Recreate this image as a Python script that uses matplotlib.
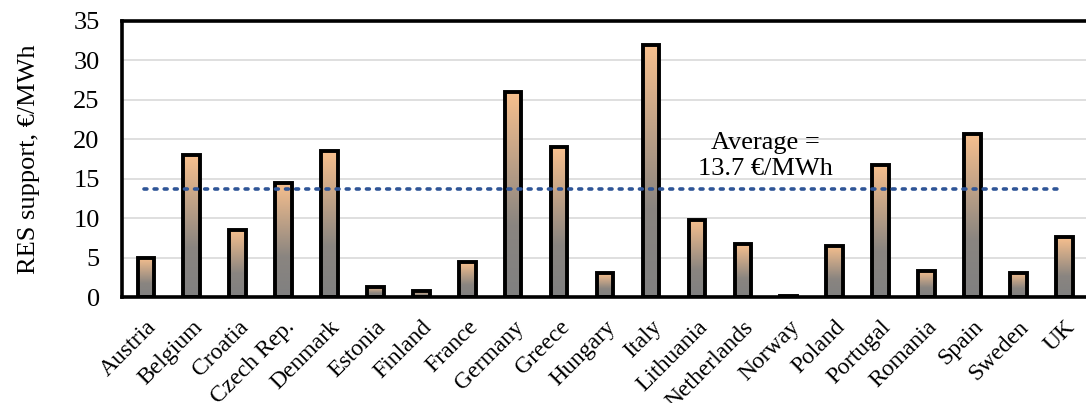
import numpy as np
import matplotlib.pyplot as plt
from matplotlib.colors import LinearSegmentedColormap

countries = ["Austria", "Belgium", "Croatia", "Czech Rep.", "Denmark", "Estonia",
             "Finland", "France", "Germany", "Greece", "Hungary", "Italy",
             "Lithuania", "Netherlands", "Norway", "Poland", "Portugal",
             "Romania", "Spain", "Sweden", "UK"]
support = [5.0, 18.0, 8.5, 14.5, 18.5, 1.3, 0.7, 4.4, 26.0, 19.0, 3.0, 32.0,
           9.8, 6.7, 0.1, 6.5, 16.8, 3.3, 20.7, 3.1, 7.6]
average = 13.7

plt.rcParams['font.family'] = ['Liberation Serif', 'DejaVu Serif']

fig = plt.figure(figsize=(10.86, 4.03), dpi=100)
ax = fig.add_axes([0.1123, 0.263, 0.8897, 0.685])

x = np.arange(len(countries))
bars = ax.bar(x, support, width=0.36, facecolor='none', edgecolor='black',
              linewidth=2.8, zorder=3)

# orange-to-grey fill inside every bar
cmap = LinearSegmentedColormap.from_list(
    "rg", [(0.0, "#808080"), (0.35, "#8a8580"), (1.0, "#f8c08e")])
grad = np.linspace(0, 1, 256).reshape(-1, 1)
for b in bars:
    x0, y0 = b.get_x(), b.get_y()
    w, h = b.get_width(), b.get_height()
    if h <= 0:
        continue
    im = ax.imshow(grad, cmap=cmap, origin='lower', aspect='auto',
                   extent=[x0, x0 + w, y0, y0 + h], zorder=2)
    im.set_clip_path(b)

ax.plot([-0.05, 19.95], [average, average], linestyle=(0, (0.8, 2.0)),
        color='#2f5597', linewidth=2.6, dash_capstyle='round', zorder=4)
ax.text(13.5, 17.9, "Average =\n13.7 €/MWh", ha='center', va='center',
        fontsize=19, linespacing=1.2, zorder=5)

ax.set_xlim(-0.52, 20.52)
ax.set_ylim(0, 35)
ax.set_yticks(np.arange(0, 36, 5))
ax.yaxis.grid(True, color='#d9d9d9', linewidth=1.2, zorder=0)
ax.set_axisbelow(True)
ax.set_xticks(x)
ax.set_xticklabels(countries, rotation=45, ha='right', rotation_mode='anchor',
                   fontsize=17)
ax.tick_params(length=0)
ax.tick_params(axis='x', pad=14)
ax.tick_params(axis='y', pad=16, labelsize=19)
ax.set_ylabel("RES support, €/MWh", fontsize=19, labelpad=24)
for s in ax.spines.values():
    s.set_linewidth(2.6)
    s.set_zorder(6)

fig.savefig("out.png", dpi=100)
